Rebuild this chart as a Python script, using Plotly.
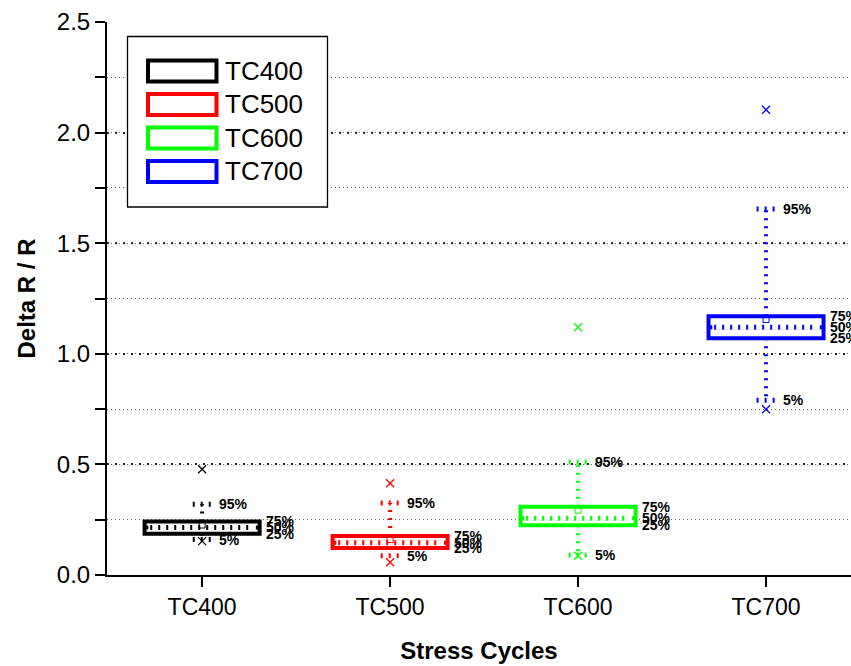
import plotly.graph_objects as go

# ---- data ----
groups = ["TC400", "TC500", "TC600", "TC700"]
colors = ["#000000", "#FF0000", "#00FF00", "#0000FF"]
p5 = [0.160, 0.087, 0.090, 0.790]
q1 = [0.187, 0.122, 0.225, 1.070]
median = [0.215, 0.146, 0.257, 1.120]
q3 = [0.242, 0.176, 0.308, 1.170]
p95 = [0.320, 0.326, 0.511, 1.655]
mean = [0.226, 0.160, 0.293, 1.155]
minv = [0.153, 0.058, 0.087, 0.749]
maxv = [0.478, 0.415, 1.120, 2.103]
y_ticks = [0.0, 0.5, 1.0, 1.5, 2.0, 2.5]

FONT = "Liberation Sans, Arial, sans-serif"
W, H = 851, 666
ML, MR, MT, MB = 107, 0, 22, 91
BOX_HALF = 0.306
CAP_HALF = 0.05
DOT = "2px,6px"

fig = go.Figure()

for i, g in enumerate(groups):
    c = colors[i]
    # box (quartiles)
    fig.add_trace(go.Box(
        x=[i], q1=[q1[i]], median=[median[i]], q3=[q3[i]],
        lowerfence=[q1[i]], upperfence=[q3[i]],
        width=2 * BOX_HALF, whiskerwidth=0,
        line=dict(color=c, width=4), fillcolor="white",
        name=g, showlegend=False, hoverinfo="skip"))
    # cover solid median, redraw dotted
    fig.add_trace(go.Scatter(
        x=[i - BOX_HALF + 0.02, i + BOX_HALF - 0.02], y=[median[i], median[i]],
        mode="lines", line=dict(color="white", width=5),
        showlegend=False, hoverinfo="skip"))
    fig.add_trace(go.Scatter(
        x=[i - BOX_HALF + 0.03, i + BOX_HALF - 0.03], y=[median[i], median[i]],
        mode="lines", line=dict(color=c, width=5, dash=DOT),
        showlegend=False, hoverinfo="skip"))
    # whiskers
    for a, b in ((q3[i], p95[i]), (q1[i], p5[i])):
        fig.add_trace(go.Scatter(
            x=[i, i], y=[a, b], mode="lines",
            line=dict(color=c, width=4, dash=DOT),
            showlegend=False, hoverinfo="skip"))
    # caps
    for v in (p95[i], p5[i]):
        fig.add_trace(go.Scatter(
            x=[i - CAP_HALF, i + CAP_HALF], y=[v, v], mode="lines",
            line=dict(color=c, width=5, dash=DOT),
            showlegend=False, hoverinfo="skip"))
    # mean
    fig.add_trace(go.Scatter(
        x=[i], y=[mean[i]], mode="markers",
        marker=dict(symbol="square-open", size=6, color=c, line=dict(width=1, color=c)),
        showlegend=False, hoverinfo="skip"))
    # min / max
    fig.add_trace(go.Scatter(
        x=[i, i], y=[minv[i], maxv[i]], mode="markers",
        marker=dict(symbol="x-thin-open", size=8, color=c, line=dict(width=1.3, color=c)),
        showlegend=False, hoverinfo="skip"))
    # percentile labels
    for xo, v, t in ((0.078, p95[i], "95%"), (0.328, q3[i], "75%"),
                     (0.328, median[i], "50%"), (0.328, q1[i], "25%"),
                     (0.078, p5[i], "5%")):
        fig.add_annotation(x=i + xo, y=v, text=t, showarrow=False,
                           xanchor="left", yanchor="middle",
                           font=dict(family=FONT, size=14, color="black", weight="bold"))

# ---- custom legend (drawn in paper coords from pixel layout) ----
PW, PH = W - ML - MR, H - MT - MB
def px(x):
    return (x - ML) / PW
def py(y):
    return (H - MB - y) / PH

fig.add_shape(type="rect", xref="paper", yref="paper",
              x0=px(127.5), x1=px(327.5), y0=py(207), y1=py(36.5),
              line=dict(color="black", width=1.3), fillcolor="white", layer="above")
row_y = [71, 104.5, 138, 171.5]
for i, g in enumerate(groups):
    fig.add_shape(type="rect", xref="paper", yref="paper",
                  x0=px(148), x1=px(216.5), y0=py(row_y[i] + 10.5), y1=py(row_y[i] - 10.5),
                  line=dict(color=colors[i], width=4), fillcolor="white", layer="above")
    fig.add_annotation(xref="paper", yref="paper", x=px(223), y=py(row_y[i]),
                       text=g, showarrow=False, xanchor="left", yanchor="middle",
                       font=dict(family=FONT, size=26, color="black"))

fig.update_layout(
    width=W, height=H,
    margin=dict(l=ML, r=MR, t=MT, b=MB, pad=0),
    paper_bgcolor="white", plot_bgcolor="white",
    boxmode="overlay", showlegend=False,
    font=dict(family=FONT, color="black"),
    xaxis=dict(
        range=[-0.506, 3.452], tickvals=list(range(len(groups))), ticktext=groups,
        ticks="outside", ticklen=10, tickwidth=2, tickcolor="black",
        showline=True, linewidth=2, linecolor="black", showgrid=False, zeroline=False,
        tickfont=dict(family=FONT, size=23, color="black"),
        title=dict(text="Stress Cycles", standoff=24,
                   font=dict(family=FONT, size=24, color="black", weight="bold")),
    ),
    yaxis=dict(
        range=[0, 2.5], tickvals=y_ticks, ticktext=[f"{v:.1f}" for v in y_ticks],
        ticks="outside", ticklen=10, tickwidth=2, tickcolor="black",
        showline=True, linewidth=2, linecolor="black", zeroline=False,
        showgrid=True, gridcolor="#222222", gridwidth=1.6, griddash="2px,6px",
        minor=dict(dtick=0.25, tick0=0, ticks="outside", ticklen=10, tickwidth=2,
                   tickcolor="black", showgrid=True, gridcolor="#666666",
                   gridwidth=1, griddash="1px,3px"),
        tickfont=dict(family=FONT, size=24, color="black"),
        title=dict(text="Delta R / R", standoff=14,
                   font=dict(family=FONT, size=24, color="black", weight="bold")),
    ),
)

fig.write_html("out.html")
